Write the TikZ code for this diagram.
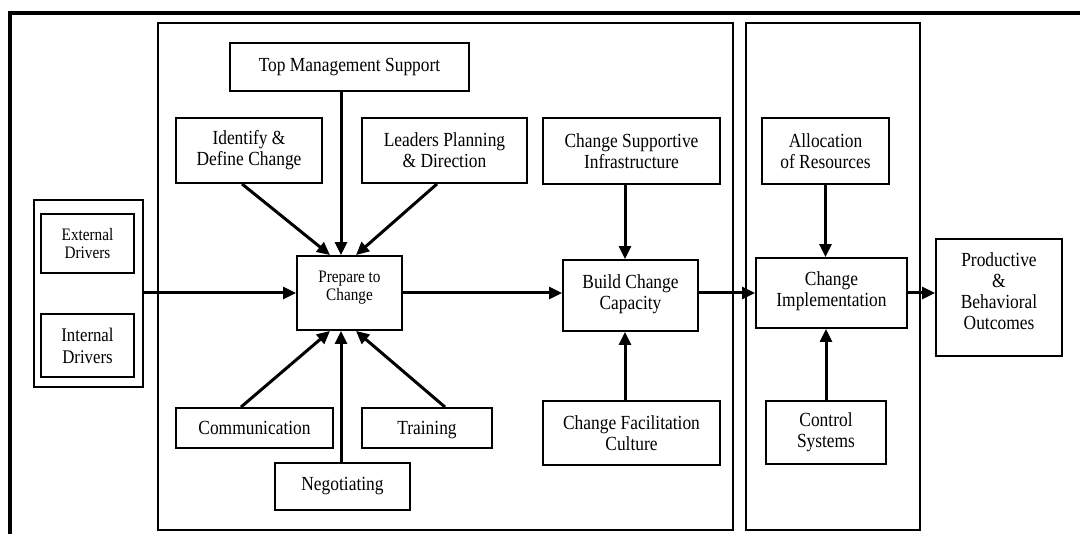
\documentclass[tikz,border=0pt]{standalone}
\usepackage{fontspec}
\setmainfont{Liberation Serif}[FakeStretch=0.87]
\usetikzlibrary{arrows.meta}

\begin{document}
\begin{tikzpicture}[x=1pt,y=-1pt,
  box/.style={draw, line width=1.9pt, align=center, inner sep=0pt,
    font=\fontsize{20}{21}\selectfont},
  wh/.style 2 args={minimum width=#1pt, minimum height=#2pt},
  smalltxt/.style={font=\fontsize{17.5}{18}\selectfont, align=center, inner sep=0pt},
  panel/.style={draw, line width=1.9pt, inner sep=0pt},
  arr/.style={line width=3pt, -{Triangle[length=13pt,width=12pt]}},
  frame/.style={line width=3.5pt}
]
\useasboundingbox (0,0) rectangle (1080,534);

% outer frame (top and left edges)
\draw[frame] (10,534) -- (10,13) -- (1080,13);

% stage panels
\node[panel, wh={575}{507}] (stageA) at (445.5,276.5) {};
\node[panel, wh={174}{507}] (stageB) at (833,276.5) {};

% drivers
\node[panel, wh={109}{187}] (drv) at (88.5,293.5) {};
\node[box, wh={93}{59}, font=\fontsize{17.5}{18}\selectfont] (ext) at (87.5,243.5) {External\\Drivers};
\node[box, wh={93}{63}, font=\fontsize{19.3}{22}\selectfont] (int) at (87.5,345.5) {Internal\\Drivers};

% preparation stage
\node[box, wh={239}{48}] (top) at (349.5,67) {Top Management Support};
\node[box, wh={146}{65}] (ident) at (249,150.5) {Identify \&\\Define Change};
\node[box, wh={165}{65}] (lead) at (444.5,150.5) {Leaders Planning\\\& Direction};
\node[box, wh={105}{74}] (prep) at (349.5,293) {};
\node[smalltxt] (prept) at ([yshift=5pt]prep.center) {Prepare to\\Change};
\node[box, wh={157}{40}] (comm) at (254.5,428) {Communication};
\node[box, wh={130}{40}, text depth=0pt] (train) at (427,428) {Training};
\node[box, wh={135}{47}] (nego) at (342.5,486.5) {Negotiating};

% capacity
\node[box, wh={177}{66}] (csi) at (631.5,151) {Change Supportive\\Infrastructure};
\node[box, wh={135}{71}, text depth=7pt] (build) at (630.5,295.5) {Build Change\\Capacity};
\node[box, wh={177}{64}] (cfc) at (631.5,433) {Change Facilitation\\Culture};

% implementation stage
\node[box, wh={127}{66}] (alloc) at (825.5,151) {Allocation\\of Resources};
\node[box, wh={151}{70}, text depth=8pt] (impl) at (831.5,293) {Change\\Implementation};
\node[box, wh={120}{63}] (ctrl) at (826,432.5) {Control\\Systems};

% outcomes
\node[box, wh={126}{117}, text depth=12pt] (prod) at (999,297.5) {Productive\\\&\\Behavioral\\Outcomes};

% main flow
\draw[arr] (drv.east |- prep.west) -- (prep.west);
\draw[arr] (prep.east) -- (prep.east -| build.west);
\draw[arr] (build.east |- impl.west) -- (impl.west);
\draw[arr] (impl.east) -- (impl.east -| prod.west);

% inputs to preparation
\draw[arr] ([xshift=-8.5pt]top.south) -- ([xshift=-8.5pt]prep.north);
\draw[arr] ([xshift=-7pt]ident.south) -- ([xshift=-19.5pt]prep.north);
\draw[arr] ([xshift=-7.5pt]lead.south) -- ([xshift=6.5pt]prep.north);
\draw[arr] ([xshift=-8.5pt]nego.north -| top.south) -- ([xshift=-8.5pt]prep.south);
\draw[arr] ([xshift=-13.5pt]comm.north) -- ([xshift=-19.5pt]prep.south);
\draw[arr] ([xshift=18pt]train.north) -- ([xshift=6.5pt]prep.south);

% inputs to capacity
\draw[arr] ([xshift=-6.5pt]csi.south) -- ([xshift=-6.5pt]csi.south |- build.north);
\draw[arr] ([xshift=-6.5pt]cfc.north) -- ([xshift=-6.5pt]cfc.north |- build.south);

% inputs to implementation
\draw[arr] (alloc.south) -- (alloc.south |- impl.north);
\draw[arr] (ctrl.north) -- (ctrl.north |- impl.south);
\end{tikzpicture}
\end{document}
